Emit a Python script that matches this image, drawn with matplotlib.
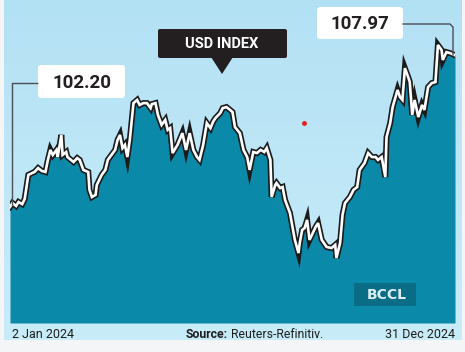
import numpy as np
import matplotlib
matplotlib.use("Agg")
import matplotlib.pyplot as plt
import matplotlib.patheffects as pe
from matplotlib.patches import FancyBboxPatch, Polygon, Rectangle
from matplotlib.colors import LinearSegmentedColormap

# ---- data (day of year 2024, USD index value) ----
days = [2, 4, 7, 9, 12, 14, 17, 20, 22, 25, 28, 31, 33, 35, 37, 40, 41, 44, 45, 48,
        49, 54, 57, 59, 62, 66, 67, 69, 72, 73, 77, 80, 82, 85, 88, 90, 92, 94, 96, 98,
        100, 103, 106, 108, 111, 114, 117, 118, 121, 123, 126, 129, 131, 133, 135, 139,
        143, 146, 149, 152, 155, 157, 160, 163, 166, 168, 170, 174, 176, 179, 182, 184,
        186, 190, 193, 196, 198, 201, 204, 207, 210, 212, 215, 216, 219, 220, 223, 225,
        227, 231, 235, 238, 239, 241, 243, 245, 247, 252, 254, 257, 261, 265, 268, 269,
        272, 274, 276, 280, 283, 286, 288, 292, 295, 298, 301, 303, 306, 309, 310, 313,
        315, 319, 321, 323, 325, 328, 329, 331, 333, 336, 339, 341, 344, 347, 350, 352,
        355, 356, 359, 362, 366]
values = [102.20, 102.35, 102.24, 102.39, 102.31, 102.50, 103.42, 103.49, 103.53, 103.68,
          103.57, 103.53, 103.99, 104.37, 104.18, 104.37, 104.10, 104.94, 104.18, 104.29,
          104.10, 103.91, 104.06, 103.99, 103.61, 103.53, 102.85, 102.58, 102.66, 103.04,
          103.42, 103.61, 103.99, 104.18, 104.37, 104.75, 104.94, 104.44, 104.56, 104.10,
          104.75, 106.15, 106.27, 106.08, 106.15, 106.15, 105.96, 106.11, 106.15, 105.70,
          105.32, 105.51, 105.13, 105.20, 104.25, 104.56, 105.01, 104.37, 105.01, 104.37,
          104.10, 103.99, 104.56, 105.39, 105.20, 105.43, 105.58, 105.77, 105.96, 106.00,
          105.89, 105.81, 105.24, 105.01, 104.37, 104.10, 103.61, 104.29, 104.25, 104.37,
          104.29, 104.44, 103.99, 102.58, 103.04, 103.11, 102.92, 102.96, 102.47, 101.97,
          100.95, 100.45, 100.83, 101.33, 101.40, 101.71, 100.95, 101.44, 101.59, 100.95,
          100.68, 100.64, 100.76, 100.26, 100.83, 101.90, 102.35, 102.58, 102.85, 102.96,
          103.61, 103.87, 104.25, 104.10, 104.10, 103.99, 104.10, 103.34, 104.86, 105.39,
          106.00, 106.65, 106.38, 106.27, 107.48, 107.10, 106.95, 105.70, 106.27, 105.62,
          106.08, 105.89, 106.76, 106.91, 106.95, 108.36, 108.17, 107.79, 108.09, 108.05,
          107.97]
start_label = "102.20"
end_label = "107.97"
title = "USD INDEX"
left_date = "2 Jan 2024"
right_date = "31 Dec 2024"
source_bold = "Source:"
source_text = " Reuters-Refinitiv."
credit = "BCCL"

W, H = 465, 352
fig = plt.figure(figsize=(W / 100, H / 100), dpi=100, facecolor="#f3f5f7")

def fr(x0, y0, x1, y1):
    # pixel box (top-left origin) -> figure fraction rect
    return [x0 / W, 1 - y1 / H, (x1 - x0) / W, (y1 - y0) / H]

# background panel with gradient
bg = fig.add_axes(fr(4, 0, 461, 340))
grad = np.linspace(0, 1, 256).reshape(-1, 1)
cmap = LinearSegmentedColormap.from_list("bgc", ["#b3e1f4", "#c9ecf9"])
bg.imshow(grad, aspect="auto", cmap=cmap, extent=[0, 1, 0, 1], origin="upper")
bg.set_axis_off()

# main chart
ax = fig.add_axes(fr(10, 0, 455, 323))
ax.set_xlim(2, 366)
ax.set_ylim(97.79, 110.07)
ax.patch.set_alpha(0)
ax.set_axis_off()
ax.fill_between(days, 97.79, values, color="#0b89a9", lw=0)
ax.plot(days, values, color="white", lw=1.9, solid_joinstyle="miter",
        path_effects=[pe.Stroke(linewidth=4.3, foreground="#1b1b1b"), pe.Normal()])
ax.plot([0.66], [0.62], transform=ax.transAxes, marker="o", ms=2.5, color="#e8201c")

# overlay in pixel coords
ov = fig.add_axes([0, 0, 1, 1])
ov.set_xlim(0, W)
ov.set_ylim(H, 0)
ov.patch.set_alpha(0)
ov.set_axis_off()

# connectors
ov.plot([12, 12, 38], [205, 83, 83], color="#4a4f55", lw=1.0, solid_capstyle="butt")
ov.plot([403, 450, 453, 453], [24, 24, 27, 55], color="#4a4f55", lw=1.0)

# value labels
for (x0, y0, x1, y1, t) in [(38, 65, 125, 98, start_label), (317, 7, 403, 39, end_label)]:
    ov.add_patch(FancyBboxPatch((x0, y0), x1 - x0, y1 - y0,
                                boxstyle="round,pad=0,rounding_size=3",
                                fc="white", ec="none"))
    ov.text((x0 + x1) / 2, (y0 + y1) / 2 + 1, t, ha="center", va="center",
            fontsize=13.5, fontweight="bold", family="Roboto", color="#231f20")

# title box
ov.add_patch(FancyBboxPatch((158, 29), 129, 29, boxstyle="round,pad=0,rounding_size=2",
                            fc="#231f20", ec="none"))
ov.add_patch(Polygon([[211, 57], [233, 57], [222, 74]], closed=True, fc="#231f20", ec="none"))
ov.text(222, 44, title, ha="center", va="center", fontsize=10.5, fontweight="bold",
        family="Roboto", color="white")

# BCCL box
ov.add_patch(Rectangle((354, 283), 62, 23, fc="#0b6c86", ec="none"))
ov.text(387, 295, credit, ha="center", va="center", fontsize=10, fontweight="bold",
        family="DejaVu Sans", color="#dbeff6")

# bottom labels
ov.text(12, 334, left_date, ha="left", va="center", fontsize=9, family="Roboto", color="#1d1d1d")
ov.text(455, 334, right_date, ha="right", va="center", fontsize=9, family="Roboto", color="#1d1d1d")
t1 = ov.text(186, 334, source_bold, ha="left", va="center", fontsize=8.8, fontweight="bold",
             family="Roboto", color="#1d1d1d")
fig.canvas.draw()
x_end = t1.get_window_extent().x1
ov.text(x_end, 334, source_text, ha="left", va="center", fontsize=8.8, family="Roboto",
        color="#1d1d1d")

fig.savefig("out.png", dpi=100, facecolor=fig.get_facecolor())
